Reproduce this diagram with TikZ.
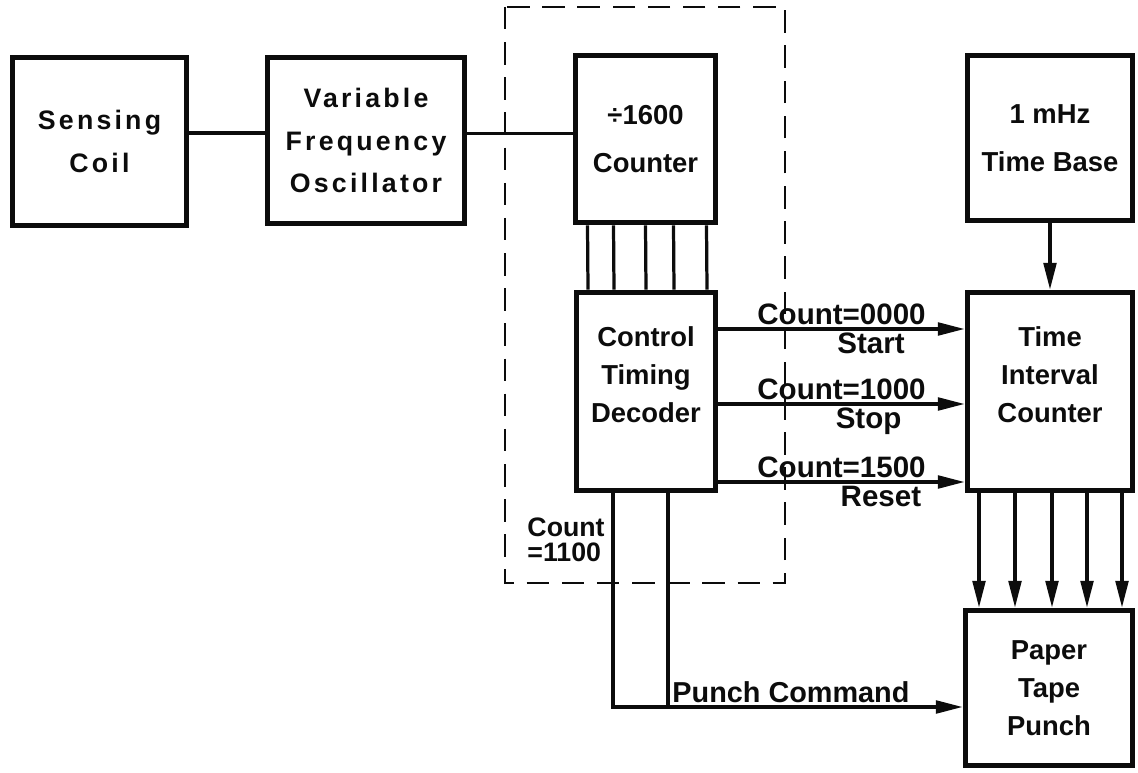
\documentclass[tikz,border=0pt]{standalone}
\usepackage{fontspec}
\setsansfont{Liberation Sans}
\newfontfamily\spacedsf[LetterSpace=12]{Liberation Sans}
\usepackage{tikz}
\usetikzlibrary{arrows.meta,calc}
\definecolor{ink}{RGB}{12,12,12}

\tikzset{
 blk/.style={draw=ink,line width=4pt,align=center,inner sep=0pt,text=ink,font=\sffamily\bfseries\fontsize{19.5}{27}\selectfont},
 wide/.style={font=\spacedsf\bfseries\fontsize{19}{30}\selectfont},
 tall/.style={font=\sffamily\bfseries\fontsize{19.5}{34}\selectfont},
 wire/.style={draw=ink,line width=2.3pt},
 sig/.style={wire,-{Triangle[length=19pt,width=9pt]}},
 frame/.style={draw=ink,line width=1.5pt,dash pattern=on 16pt off 9pt},
 tag/.style={font=\sffamily\bfseries\fontsize{21}{22}\selectfont,text=ink,inner sep=1.5pt},
}

\begin{document}
\begin{tikzpicture}[x=0.025cm,y=-0.025cm]
 \useasboundingbox (0,0) rectangle (1138,773);
 % front end
 \node[blk,wide,minimum width=4.35cm,minimum height=4.2cm] (coil) at (99.5,141.5) {Sensing\\Coil};
 \node[blk,wide,minimum width=4.925cm,minimum height=4.15cm] (vfo) at (366,140.5) {Variable\\Frequency\\Oscillator};
 % dashed control unit
 \draw[frame] (505,7) rectangle (785,583);
 \node[blk,tall,minimum width=3.5cm,minimum height=4.175cm] (div) at (645.5,139) {÷1600\\Counter};
 \node[blk,minimum width=3.475cm,minimum height=4.95cm,text depth=24pt] (dec) at (646,391.5) {Control\\Timing\\Decoder};
 % timing and output
 \node[blk,tall,minimum width=4.125cm,minimum height=4.125cm] (base) at (1050,138) {1 mHz\\Time Base};
 \node[blk,minimum width=4.125cm,minimum height=4.95cm,text depth=24pt] (tic) at (1050,391.5) {Time\\Interval\\Counter};
 \node[blk,minimum width=4.175cm,minimum height=3.875cm] (tape) at (1049,688) {Paper\\Tape\\Punch};
 % chain
 \draw[wire] ([yshift=6pt]coil.east) -- ([yshift=6pt]coil.east -| vfo.west);
 \draw[wire] ([yshift=5pt]vfo.east) -- ([yshift=5pt]vfo.east -| div.west);
 % counter bus
 \foreach \dx in {-58,-32,0,28,61}
  \draw[wire] ($(div.south)+(\dx,0)$) -- ($(dec.north)+(\dx,0)$);
 % decoder outputs
 \foreach \dy/\up/\dn/\p in {-62.5/Count=0000/Start/0.62,12.5/Count=1000/Stop/0.61,90.5/Count=1500/Reset/0.66}
  \draw[sig] ($(dec.east)+(0,\dy)$) -- ($(tic.west)+(0,\dy)$)
   node[tag,above,midway]{\up} node[tag,below,pos=\p]{\dn};
 \draw[sig] (base) -- (tic);
 % counter to punch
 \foreach \dx in {-71,-35,2,37,72}
  \draw[sig] ($(tic.south)+(\dx,0)$) coordinate (t) -- (t |- tape.north);
 % punch command
 \coordinate (pc) at ($(tape.west)+(0,19)$);
 \coordinate (pa) at ($(dec.south)+(-33,0)$);
 \coordinate (pb) at ($(dec.south)+(22,0)$);
 \draw[sig] (pa) |- (pc);
 \draw[wire] (pb) -- (pb |- pc) node[tag,above right,inner sep=2pt,font=\sffamily\bfseries\fontsize{20.5}{22}\selectfont]{Punch Command};
 \node[tag,anchor=north east,align=left,font=\sffamily\bfseries\fontsize{19}{18}\selectfont] (cnt) at ($(pa)+(-6,22)$) {Count\\=1100};
\end{tikzpicture}
\end{document}
